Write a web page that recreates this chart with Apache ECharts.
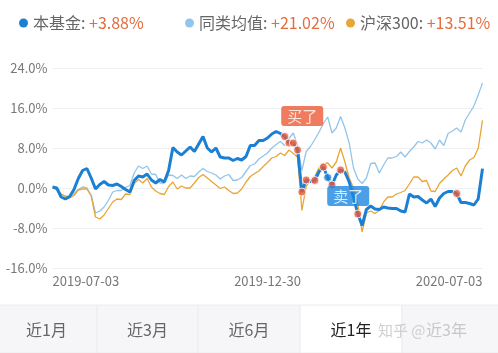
<!DOCTYPE html>
<html><head><meta charset="utf-8">
<script src="https://cdn.jsdelivr.net/npm/echarts@6/dist/echarts.min.js"></script>
<style>html,body{margin:0;padding:0;background:#fff}#c{width:498px;height:353px}</style>
</head><body><div id="c"></div>
<script>
const seriesNames = ['本基金', '同类均值', '沪深300'];
const seriesReturns = ['+3.88%', '+21.02%', '+13.51%'];
const xTickPos = [0, 50, 100];
const xTickLabels = ['2019-07-03', '2019-12-30', '2020-07-03'];
const yMin = -16, yMax = 24, yStep = 8;

const fund = [0.2,0.0,-1.8,-2.2,-1.7,-0.3,1.9,3.5,3.9,2.0,
  -0.2,0.7,1.3,0.6,0.5,0.8,0.3,-0.3,-0.8,1.5,
  2.4,2.2,2.8,1.6,1.0,1.7,1.2,3.5,8.1,7.2,
  6.6,7.4,8.2,7.3,8.8,10.3,8.0,7.2,8.0,6.2,
  6.0,6.0,5.5,5.9,5.6,6.3,8.5,8.5,9.5,9.5,
  10.0,10.8,11.3,10.9,10.3,9.0,9.0,7.6,-0.8,1.6,
  1.3,1.5,3.3,4.2,2.1,0.6,2.6,3.6,3.2,1.2,
  -1.8,-5.2,-7.5,-4.3,-3.6,-4.2,-4.3,-3.8,-4.0,-4.1,
  -4.1,-4.6,-4.8,-1.2,-1.8,-1.7,-2.4,-3.0,-2.2,-3.7,
  -2.0,-1.1,-0.7,-0.7,-1.1,-2.9,-2.9,-3.1,-3.4,-2.2,
  3.88];
const peer = [0,-0.3,-1.2,-1.6,-1.8,-1.1,-0.3,0.2,0.0,-1.4,
  -5.0,-4.6,-3.8,-2.5,-0.8,-0.5,-0.5,0.1,0.5,3.0,
  4.4,3.9,4.4,2.8,2.7,1.0,1.0,2.6,2.5,1.9,
  2.6,1.9,2.4,2.3,3.2,3.9,3.3,3.0,2.6,1.8,
  2.4,2.7,1.5,1.6,2.1,3.3,4.5,4.8,5.8,6.4,
  7.0,8.0,8.7,9.3,8.5,9.9,11.0,8.5,3.5,7.3,
  8.3,9.7,11.2,12.9,14.2,11.0,12.0,14.3,12.0,9.0,
  4.0,1.8,0.9,2.0,4.9,5.0,3.0,4.6,6.0,6.0,
  6.3,7.2,6.2,7.3,8.2,9.3,9.0,9.6,9.0,7.8,
  9.6,8.5,10.9,11.4,12.0,11.2,13.6,15.0,16.4,18.6,
  21.02];
const hs300 = [0,-0.4,-1.2,-1.7,-2.0,-1.5,-0.4,-0.2,-0.2,-1.6,
  -5.8,-6.2,-5.4,-4.1,-2.8,-2.2,-2.3,-1.2,-1.3,0.9,
  1.7,1.0,1.9,0.2,-0.6,-1.1,-1.3,0.3,1.2,-0.2,
  0.4,0.0,0.0,1.0,2.1,2.7,2.0,1.3,0.6,-0.1,
  0.2,-0.5,-1.1,-1.0,-0.2,1.2,2.3,2.9,3.4,4.3,
  5.1,6.0,6.3,7.0,6.5,7.6,6.9,6.2,-4.5,0.4,
  1.5,2.3,4.1,4.8,5.0,4.0,5.2,8.0,5.2,2.0,
  0.0,-3.2,-8.8,-5.0,-4.6,-5.1,-4.5,-2.8,-1.8,-1.8,
  -1.2,-0.9,-0.5,0.8,2.2,2.2,1.3,1.5,-0.6,-0.7,
  0.9,1.8,2.6,3.5,4.0,2.4,4.4,5.6,6.1,7.9,
  13.51];
const buyIdx = [54, 55, 56, 57, 58, 59, 61, 63, 65, 67, 71, 94];
const sellIdx = [64];
const buyText = '买了';
const sellText = '卖了';
const tabLabels = ['近1月', '近3月', '近6月', '近1年', '近3年'];
const watermark = '知乎 @';

const FONT = '"Noto Sans CJK SC", "Noto Sans", sans-serif';
const C_FUND = '#1b80d4', C_PEER = '#93c5ea', C_HS = '#e9a634', C_BUY = '#e5573c';

const chart = echarts.init(document.getElementById('c'), null, {renderer: 'canvas'});

const toPts = arr => arr.map((v, i) => [i, v]);
const buyData = buyIdx.map((i, n) => {
  const d = {value: [i, fund[i]]};
  if (n === 0) d.label = {show: true, formatter: buyText, position: [1, -26],
    backgroundColor: '#ee5a36', color: '#fff', fontSize: 15, fontFamily: FONT,
    padding: [2, 6, 2, 6], borderRadius: 3, lineHeight: 16};
  return d;
});
const sellData = sellIdx.map(i => ({value: [i, fund[i]], label: {show: true, formatter: sellText,
  position: [4, 13], backgroundColor: '#1d87e0', color: '#fff', fontSize: 15, fontFamily: FONT,
  padding: [2, 6, 2, 6], borderRadius: 3, lineHeight: 16}}));

const legendAt = [14, 180, 341];
const legends = seriesNames.map((n, i) => ({
  data: [{name: n, icon: 'circle'}], left: legendAt[i], top: 10,
  itemWidth: 9, itemHeight: 9, itemGap: 6,
  formatter: name => '{n|' + name + ': }{v|' + seriesReturns[i] + '}',
  textStyle: {fontFamily: FONT, rich: {
    n: {color: '#666', fontSize: 16, fontFamily: FONT},
    v: {color: '#e36d3d', fontSize: 16, fontFamily: FONT}}}
}));

const tabEdges = [-4, 97, 198, 300, 402, 503];
const graphics = [];
graphics.push({type: 'rect', shape: {x: 0, y: 305, width: 498, height: 48}, style: {fill: '#f6f6f8'}, silent: true});
tabLabels.forEach((t, i) => {
  const x0 = tabEdges[i], x1 = tabEdges[i + 1];
  const sel = i === 3;
  graphics.push({type: 'rect', shape: {x: x0, y: 305, width: x1 - x0, height: 48},
    style: {fill: sel ? '#ffffff' : '#f6f6f8', stroke: '#ececee', lineWidth: 1}, silent: true});
  graphics.push({type: 'text', x: (x0 + x1) / 2 + (i === 4 ? -6 : 0), y: 330,
    style: {text: t, fill: sel ? '#222' : (i === 4 ? '#c8c8cc' : '#666'), fontSize: 16, fontFamily: FONT,
      align: 'center', verticalAlign: 'middle'}, silent: true});
});
graphics.push({type: 'text', x: 378, y: 330, style: {text: watermark, fill: '#cfcfd3', fontSize: 15,
  fontFamily: FONT, verticalAlign: 'middle'}, silent: true});

chart.setOption({
  animation: false,
  backgroundColor: '#fff',
  legend: legends,
  grid: {left: 52.5, right: 15.5, top: 68, bottom: 85, containLabel: false},
  xAxis: {
    type: 'value', min: 0, max: 100,
    axisLine: {show: false}, axisTick: {show: false}, splitLine: {show: false},
    axisLabel: {customValues: xTickPos, formatter: v => xTickLabels[xTickPos.indexOf(v)] || '',
      color: '#777', fontSize: 13, fontFamily: FONT, margin: 7,
      alignMinLabel: 'left', alignMaxLabel: 'right'}
  },
  yAxis: {
    type: 'value', min: yMin, max: yMax, interval: yStep,
    axisLine: {show: false}, axisTick: {show: false},
    splitLine: {lineStyle: {color: '#f0f0f2', width: 1}},
    axisLabel: {formatter: v => v.toFixed(1) + '%', color: '#777', fontSize: 13, fontFamily: FONT, margin: 5}
  },
  graphic: graphics,
  series: [
    {name: seriesNames[1], type: 'line', data: toPts(peer), showSymbol: false, color: C_PEER,
      lineStyle: {width: 1.3, color: C_PEER}, z: 2},
    {name: seriesNames[2], type: 'line', data: toPts(hs300), showSymbol: false, color: C_HS,
      lineStyle: {width: 1.3, color: C_HS}, z: 3},
    {name: seriesNames[0], type: 'line', data: toPts(fund), showSymbol: false, color: C_FUND,
      lineStyle: {width: 3, color: C_FUND}, z: 4},
    {type: 'scatter', data: buyData, symbolSize: 8, z: 5,
      itemStyle: {color: C_BUY, borderColor: '#fff', borderWidth: 1}},
    {type: 'scatter', data: sellData, symbolSize: 8, z: 5,
      itemStyle: {color: C_FUND, borderColor: '#fff', borderWidth: 1}}
  ]
});
</script></body></html>
